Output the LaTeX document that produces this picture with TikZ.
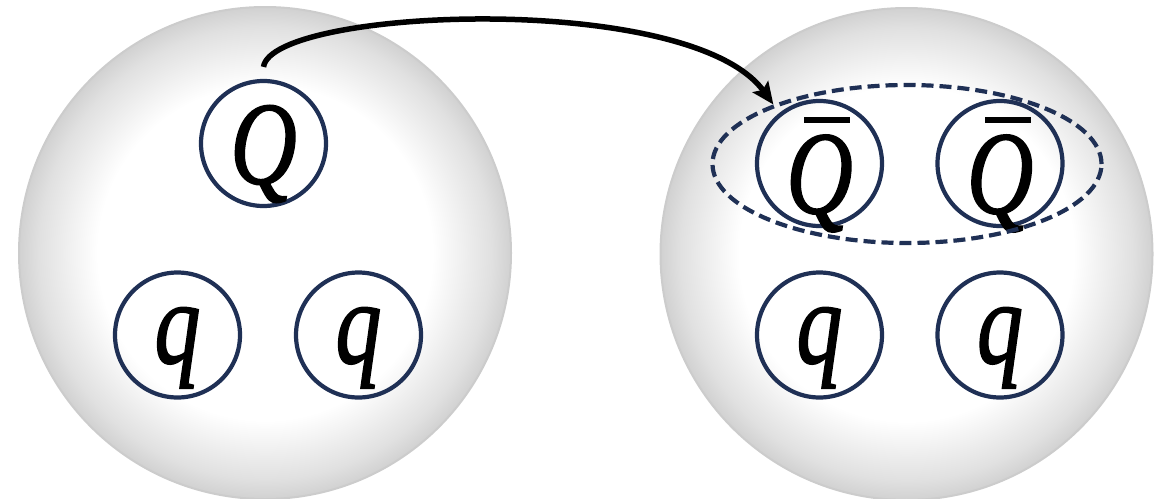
\documentclass[tikz,border=0pt]{standalone}
\usepackage{fontspec}
\setmainfont{Liberation Serif}[ItalicFeatures={FakeBold=1.5}]
\usetikzlibrary{arrows.meta,shapes.geometric}
\definecolor{navy}{RGB}{31,48,85}
\definecolor{rimgray}{RGB}{204,204,204}
\pgfdeclareradialshading{ball}{\pgfpoint{0bp}{0bp}}{color(0bp)=(white); color(17bp)=(white); color(23bp)=(black!12); color(25bp)=(black!18); color(50bp)=(black!18)}
\newcommand\nqtxt[1]{\scalebox{0.78}[1]{#1}}
\tikzset{
  ballnode/.style={circle, minimum size=492pt, inner sep=0pt, shading=ball, draw=rimgray, line width=2pt},
  quark/.style={circle, minimum size=125pt, inner sep=0pt, draw=navy, line width=4.2pt},
  lbl/.style={font=\fontsize{118}{118}\selectfont\itshape, inner sep=0pt, anchor=base},
  pairell/.style={ellipse, minimum width=389pt, minimum height=158pt, inner sep=0pt, draw=navy, line width=4.2pt, dash pattern=on 12pt off 6pt},
  arr/.style={-{Stealth[length=22pt,width=19pt,inset=4pt]}, line width=5.5pt, black}
}
\begin{document}
\begin{tikzpicture}[x=1pt,y=-1pt]
\useasboundingbox (0,0) rectangle (1170,498);
% baryon and tetraquark spheres
\node[ballnode] (L) at (265,253) {};
\node[ballnode] (R) at (906.5,254) {};
% left: Q q q
\node[quark] (Q) at (263.5,143.5) {};
\node[quark] (q1) at (177.5,335) {};
\node[quark] (q2) at (358.5,335) {};
\node[lbl] at ([yshift=-40pt]Q.center) {\nqtxt{Q}};
\node[lbl] at ([yshift=-28pt]q1.center) {\nqtxt{q}};
\node[lbl] at ([yshift=-28pt]q2.center) {\nqtxt{q}};
% right: Qbar Qbar q q
\node[quark] (B1) at (819.5,163.5) {};
\node[quark] (B2) at (1000,163.5) {};
\node[quark] (q3) at (819.5,335) {};
\node[quark] (q4) at (1000,335) {};
\node[lbl] at ([yshift=-49.5pt]B1.center) {\nqtxt{Q}};
\node[lbl] at ([yshift=-49.5pt]B2.center) {\nqtxt{Q}};
\fill ([xshift=-15.5pt,yshift=40.5pt]B1.center) rectangle ([xshift=30.5pt,yshift=46.5pt]B1.center);
\fill ([xshift=-15.5pt,yshift=40.5pt]B2.center) rectangle ([xshift=30.5pt,yshift=46.5pt]B2.center);
\node[lbl] at ([yshift=-28pt]q3.center) {\nqtxt{q}};
\node[lbl] at ([yshift=-28pt]q4.center) {\nqtxt{q}};
% dashed pair
\node[pairell] (E) at (907,164) {};
% arrow
\draw[arr] ([yshift=12pt]Q.north) .. controls (272,8) and (690,-10) .. (E.156);
\end{tikzpicture}
\end{document}
